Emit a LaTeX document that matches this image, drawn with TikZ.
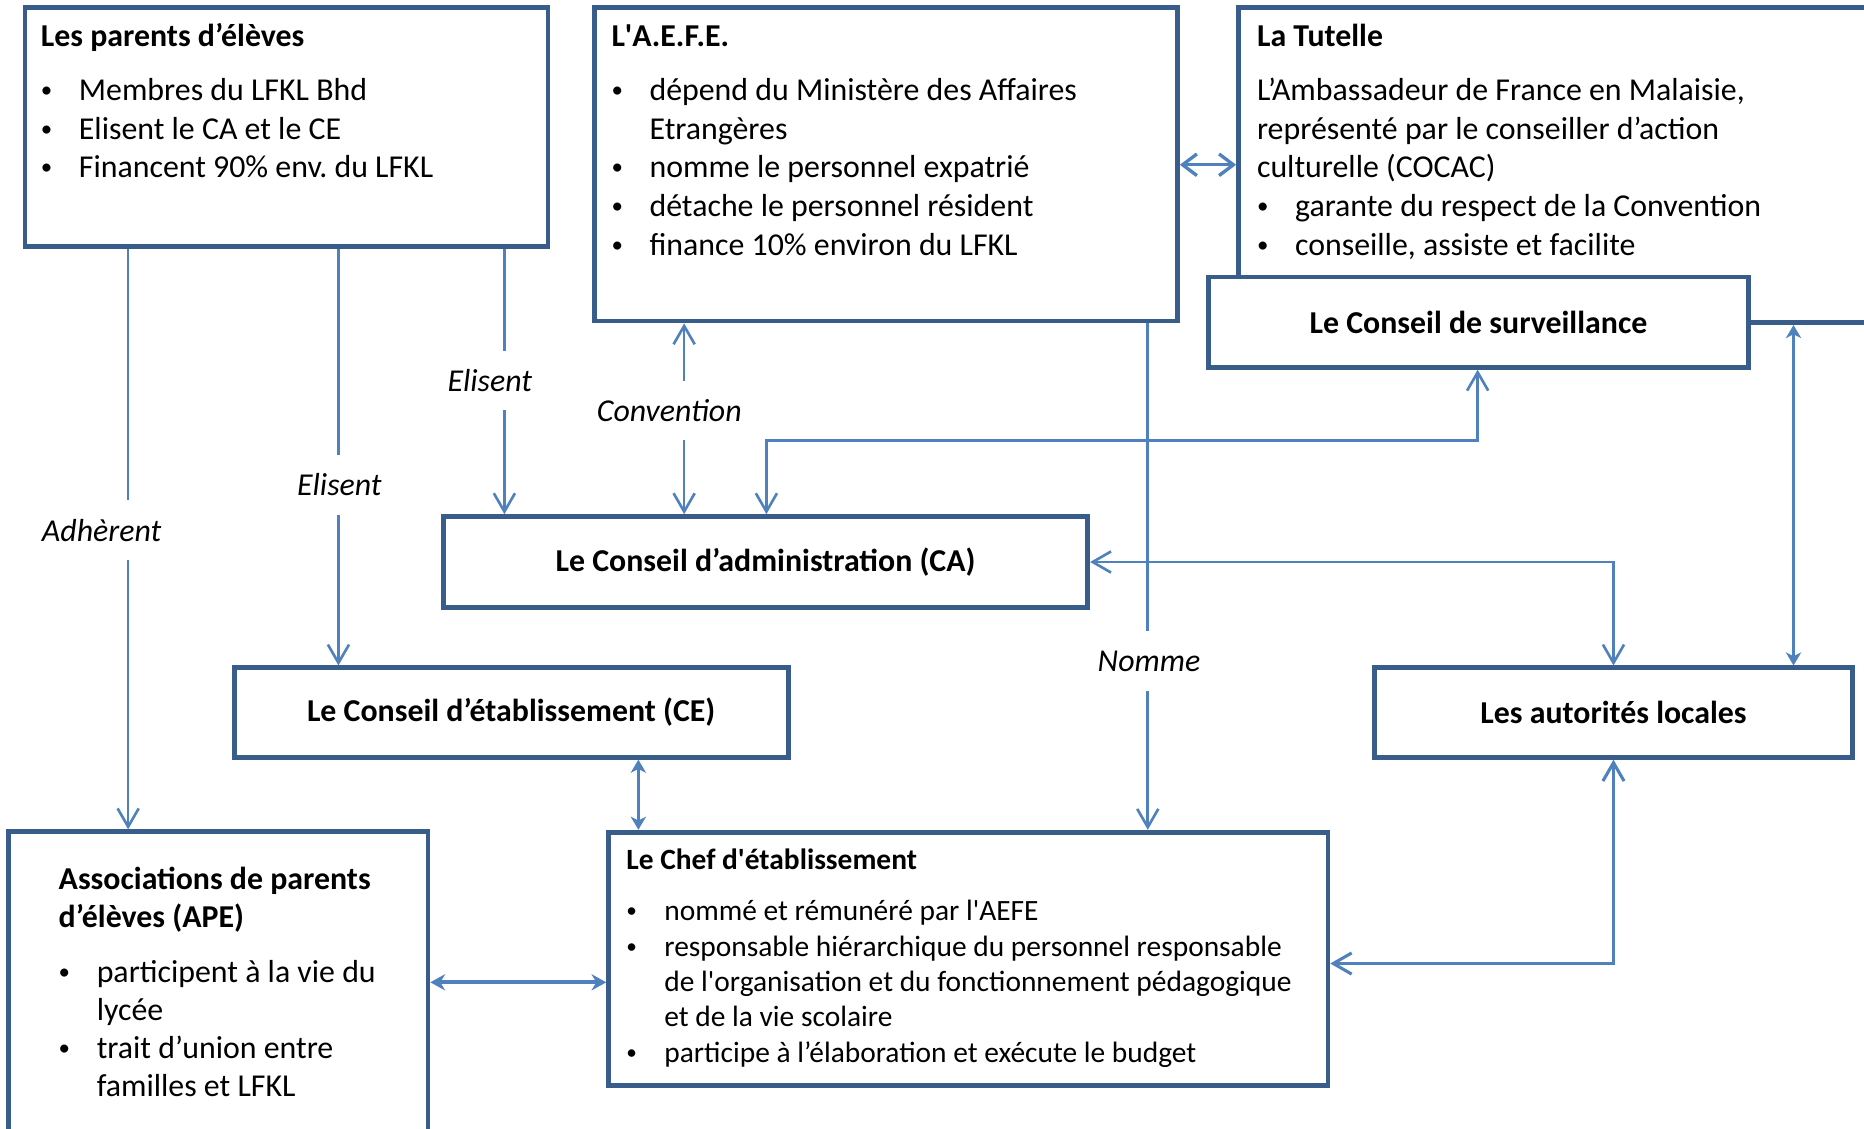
\documentclass[tikz,border=0pt]{standalone}
\usepackage{fontspec}
\usepackage{graphicx}
\setmainfont{Carlito}
\usetikzlibrary{arrows.meta,fit}
\definecolor{boxc}{RGB}{56,93,138}
\definecolor{connc}{RGB}{79,129,189}
\newcommand\fbig{\fontsize{13.4}{16.25}\selectfont}
\newcommand\fsmall{\fontsize{12.38}{14.875}\selectfont}
\newcommand\bul{\makebox[16pt][l]{\raisebox{0.1em}{\scalebox{0.72}{\textbullet}}}}
\newcommand\ind{\hspace*{16pt}}
\newcommand\sq{\XeTeXglyph\XeTeXcharglyph"27\relax}
\frenchspacing
\begin{document}
\begin{tikzpicture}[x=0.5pt,y=-0.5pt,
  box/.style={draw=boxc,line width=2pt,fill=white,inner sep=0pt},
  boxlbl/.style={inner sep=0pt,font=\fbig\bfseries},
  conn/.style={draw=connc,line width=1.1pt,>={Straight Barb[length=7.7pt,width=8.9pt]}},
  stl/.style={>={Stealth[length=5.5pt,width=6.4pt,inset=1.6pt]}},
  txt/.style={anchor=base west,inner sep=0pt},
  lbl/.style={fill=white,inner xsep=1pt,inner ysep=0pt,minimum height=25pt,font=\fbig\itshape}]
\useasboundingbox (0,0) rectangle (1568,949.7);
\clip (0,0) rectangle (1568,949.7);

% boxes
\node[box,fit={(21,6.3) (461,207.5)}] (parents) {};
\node[box,fit={(500,6.3) (990.5,270)}] (aefe) {};
\node[box,fit={(1041.8,6.3) (1700,271.4)}] (tutelle) {};
\node[box,fit={(1016.8,233) (1470.6,309)}] (cs) {};
\node[box,fit={(373,434.5) (915,511)}] (ca) {};
\node[box,fit={(197,561.8) (663,637)}] (ce) {};
\node[box,fit={(1156,561.8) (1558.5,637)}] (auto) {};
\node[box,fit={(7,699.6) (360,1000)}] (ape) {};
\node[box,fit={(512,700) (1117,913.4)}] (chef) {};

% single-line box labels
\node[boxlbl] (lcs) at (cs.center) {Le Conseil de surveillance};
\node[boxlbl] (lca) at (ca.center) {Le Conseil d’administration (CA)};
\node[boxlbl] (lce) at (ce.center) {Le Conseil d’établissement (CE)};
\node[boxlbl] (lauto) at (auto.center) {Les autorités locales};

% box contents
\node[txt] (tparents) at (34,39.4) {\parbox[t]{300pt}{\fbig
  \textbf{Les parents d’élèves}\par\vspace{6.4pt}
  \bul Membres du LFKL Bhd\par
  \bul Elisent le CA et le CE\par
  \bul Financent 90\% env. du LFKL}};
\node[txt] (taefe) at (514,39.4) {\parbox[t]{300pt}{\fbig
  \textbf{L\sq A.E.F.E.}\par\vspace{6.4pt}
  \bul dépend du Ministère des Affaires\par
  \ind Etrangères\par
  \bul nomme le personnel expatrié\par
  \bul détache le personnel résident\par
  \bul finance 10\% environ du LFKL}};
\node[txt] (ttutelle) at (1057,39.4) {\parbox[t]{300pt}{\fbig
  \textbf{La Tutelle}\par\vspace{6.4pt}
  L’Ambassadeur de France en Malaisie,\par
  représenté par le conseiller d’action\par
  culturelle (COCAC)\par
  \bul garante du respect de la Convention\par
  \bul conseille, assiste et facilite}};
\node[txt] (tape) at (49,748) {\parbox[t]{300pt}{\fontsize{13.4}{16}\selectfont
  \textbf{Associations de parents}\par
  \textbf{d’élèves (APE)}\par\vspace{7.1pt}
  \bul participent à la vie du\par
  \ind lycée\par
  \bul trait d’union entre\par
  \ind familles et LFKL}};
\node[txt] (tchef) at (526.5,731.8) {\parbox[t]{300pt}{\fsmall
  \textbf{Le Chef d\sq établissement}\par\vspace{6.5pt}
  \bul nommé et rémunéré par l\sq AEFE\par
  \bul responsable hiérarchique du personnel responsable\par
  \ind de l\sq organisation et du fonctionnement pédagogique\par
  \ind et de la vie scolaire\par
  \bul participe à l’élaboration et exécute le budget}};

% connector positions
\coordinate (k1) at (107.8,0);
\coordinate (k2) at (284.7,0);
\coordinate (k3) at (424.3,0);
\coordinate (k4) at (575.5,0);
\coordinate (k5a) at (1243,370.7);
\coordinate (k5b) at (644.7,370.7);
\coordinate (k6) at (965.5,0);
\coordinate (k8) at (1508.7,0);
\coordinate (k9) at (537,0);
\coordinate (k10) at (0,826.3);
\coordinate (k11) at (0,810.5);
\coordinate (k12) at (0,138.6);

% connectors
\draw[conn,->] (parents.south -| k1) -- (ape.north -| k1);
\draw[conn,->] (parents.south -| k2) -- (ce.north -| k2);
\draw[conn,->] (parents.south -| k3) -- (ca.north -| k3);
\draw[conn,<->] (aefe.south -| k4) -- (ca.north -| k4);
\draw[conn,<->] (cs.south -| k5a) -- (k5a) -- (k5b) -- (ca.north -| k5b);
\draw[conn,->] (aefe.south -| k6) -- (chef.north -| k6);
\draw[conn,<->] (ca.east) -| (auto.north);
\draw[conn,stl,<->] (tutelle.south -| k8) -- (auto.north -| k8);
\draw[conn,stl,<->] (ce.south -| k9) -- (chef.north -| k9);
\draw[conn,line width=1.7pt,>={Stealth[length=6.2pt,width=6.8pt,inset=2pt]},<->] (ape.east |- k10) -- (chef.west |- k10);
\draw[conn,line width=1.3pt,<->] (auto.south) |- (chef.east |- k11);
\draw[conn,line width=1.4pt,>={Straight Barb[length=6pt,width=9.1pt]},<->] (aefe.east |- k12) -- (tutelle.west |- k12);

% connector labels
\node[lbl] (ladh) at (85.5,446) {Adhèrent};
\node[lbl] (lel1) at (285.5,408) {Elisent};
\node[lbl] (lel2) at (412,320) {Elisent};
\node[lbl] (lconv) at (563,345.3) {Convention};
\node[lbl] (lnom) at (966.5,556) {Nomme};
\end{tikzpicture}
\end{document}
